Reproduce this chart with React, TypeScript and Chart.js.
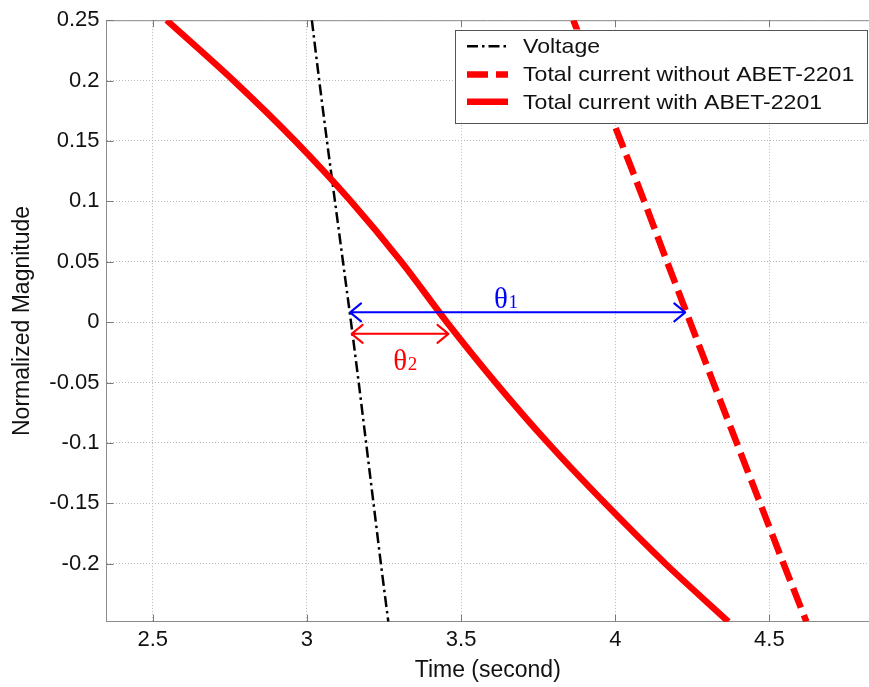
import React, { useEffect, useRef } from "react";
import { Chart, registerables } from "chart.js";

Chart.register(...registerables);

// ---- data ----
// magnitude levels (y) at which each curve's time (x) was read
const magnitudeLevels = [0.25, 0.2, 0.15, 0.1, 0.05, 0, -0.05, -0.1, -0.15, -0.2, -0.248];
const voltageTimes = [3.016, 3.04, 3.065, 3.091, 3.117, 3.143, 3.168, 3.192, 3.216, 3.24, 3.264];
const currentWithoutTimes = [3.864, 3.94, 4.018, 4.094, 4.168, 4.243, 4.318, 4.394, 4.47, 4.546, 4.62];
const currentWithTimes = [2.545, 2.762, 2.962, 3.143, 3.306, 3.454, 3.612, 3.782, 3.967, 4.163, 4.367];

const seriesNames = ["Voltage", "Total current without ABET-2201", "Total current with ABET-2201"];

const xRange = [2.35, 4.823];
const yRange = [-0.248, 0.25];
const xStep = 0.5;
const yStep = 0.05;

// phase-shift arrows (theta1, theta2)
const arrowSymbols = ["θ", "θ"];
const arrowSubscripts = ["1", "2"];
const arrowFrom = [3.14, 3.145];
const arrowTo = [4.227, 3.459];
const arrowLevel = [0.0081, -0.0097];
const arrowLabelX = [3.645, 3.318];
const arrowLabelY = [0.02, -0.0313];
const arrowColors = ["#0000ff", "#ff0000"];

const FONT = '"Liberation Sans", Arial, Helvetica, sans-serif';
const SERIF = '"Liberation Serif", "Times New Roman", serif';

function toPoints(times: number[]) {
  return times.map((t, i) => ({ x: t, y: magnitudeLevels[i] }));
}

function fmt(v: any) {
  const n = Math.round(Number(v) * 1000) / 1000;
  return n === 0 ? "0" : String(n);
}

const frameAndTicks = {
  id: "frameAndTicks",
  beforeDatasetsDraw(chart: any) {
    const { ctx, chartArea: a, scales } = chart;
    ctx.save();
    ctx.strokeStyle = "#8a8a8a";
    ctx.lineWidth = 1;
    ctx.setLineDash([]);
    ctx.beginPath();
    ctx.moveTo(a.left, a.top + 0.5);
    ctx.lineTo(a.right, a.top + 0.5);
    ctx.stroke();
    const tl = 7;
    ctx.strokeStyle = "#7a7a7a";
    scales.x.ticks.forEach((t: any) => {
      const px = Math.round(scales.x.getPixelForValue(t.value)) + 0.5;
      ctx.beginPath();
      ctx.moveTo(px, a.top);
      ctx.lineTo(px, a.top + tl);
      ctx.moveTo(px, a.bottom);
      ctx.lineTo(px, a.bottom - tl);
      ctx.stroke();
    });
    scales.y.ticks.forEach((t: any) => {
      const py = Math.round(scales.y.getPixelForValue(t.value)) + 0.5;
      ctx.beginPath();
      ctx.moveTo(a.left, py);
      ctx.lineTo(a.left + tl, py);
      ctx.stroke();
    });
    ctx.restore();
  },
};

const phaseArrows = {
  id: "phaseArrows",
  afterDatasetsDraw(chart: any) {
    const { ctx, scales } = chart;
    const xs = scales.x;
    const ys = scales.y;
    arrowFrom.forEach((from, i) => {
      const x1 = xs.getPixelForValue(from);
      const x2 = xs.getPixelForValue(arrowTo[i]);
      const yy = ys.getPixelForValue(arrowLevel[i]);
      const col = arrowColors[i];
      ctx.save();
      ctx.strokeStyle = col;
      ctx.lineWidth = 2;
      ctx.setLineDash([]);
      ctx.lineCap = "round";
      ctx.lineJoin = "round";
      ctx.beginPath();
      ctx.moveTo(x1, yy);
      ctx.lineTo(x2, yy);
      ctx.moveTo(x1 + 11, yy - 9);
      ctx.lineTo(x1, yy);
      ctx.lineTo(x1 + 11, yy + 9);
      ctx.moveTo(x2 - 11, yy - 9);
      ctx.lineTo(x2, yy);
      ctx.lineTo(x2 - 11, yy + 9);
      ctx.stroke();

      // label
      const cx = xs.getPixelForValue(arrowLabelX[i]);
      const cy = ys.getPixelForValue(arrowLabelY[i]);
      ctx.fillStyle = col;
      ctx.textBaseline = "alphabetic";
      ctx.textAlign = "left";
      ctx.font = `29px ${SERIF}`;
      const w1 = ctx.measureText(arrowSymbols[i]).width;
      ctx.font = `19px ${SERIF}`;
      const w2 = ctx.measureText(arrowSubscripts[i]).width;
      const start = cx - (w1 + w2) / 2;
      const base = cy + 10;
      ctx.font = `29px ${SERIF}`;
      ctx.fillText(arrowSymbols[i], start, base);
      ctx.font = `19px ${SERIF}`;
      ctx.fillText(arrowSubscripts[i], start + w1 + 0.5, base);
      ctx.restore();
    });
  },
};

const boxedLegend = {
  id: "boxedLegend",
  afterDraw(chart: any) {
    const { ctx, chartArea: a } = chart;
    const w = 412;
    const h = 93;
    const left = a.right - w - 2;
    const top = a.top + 9.3;
    ctx.save();
    ctx.fillStyle = "#ffffff";
    ctx.fillRect(left, top, w, h);
    ctx.strokeStyle = "#555555";
    ctx.lineWidth = 1;
    ctx.setLineDash([]);
    ctx.strokeRect(Math.round(left) + 0.5, Math.round(top) + 0.5, w, h);
    const rows = [16.7, 45, 72.3];
    chart.data.datasets.forEach((ds: any, i: number) => {
      const yy = top + rows[i];
      ctx.save();
      ctx.strokeStyle = ds.borderColor;
      ctx.lineWidth = ds.borderWidth;
      ctx.setLineDash(ds.borderDash || []);
      ctx.lineCap = "butt";
      ctx.beginPath();
      ctx.moveTo(left + 12, yy);
      ctx.lineTo(left + 53, yy);
      ctx.stroke();
      ctx.restore();
      ctx.save();
      ctx.fillStyle = "#111111";
      ctx.font = `21px ${FONT}`;
      ctx.textBaseline = "middle";
      ctx.textAlign = "left";
      ctx.translate(left + 68, yy + 1);
      ctx.scale(1.1, 1);
      ctx.fillText(ds.label, 0, 0);
      ctx.restore();
    });
    ctx.restore();
  },
};

export default function App() {
  const ref = useRef<HTMLCanvasElement>(null);

  useEffect(() => {
    const canvas = ref.current;
    if (!canvas) return;
    const tickFont = { family: FONT, size: 22 };
    const chart = new Chart(canvas, {
      type: "line",
      data: {
        datasets: [
          {
            label: seriesNames[0],
            data: toPoints(voltageTimes),
            borderColor: "#000000",
            borderWidth: 2.5,
            borderDash: [11, 4, 2.5, 4],
            pointRadius: 0,
            cubicInterpolationMode: "monotone",
            clip: 0,
            order: 3,
          },
          {
            label: seriesNames[1],
            data: toPoints(currentWithoutTimes),
            borderColor: "#ff0000",
            borderWidth: 6.5,
            borderDash: [21, 8],
            pointRadius: 0,
            cubicInterpolationMode: "monotone",
            clip: 0,
            order: 2,
          },
          {
            label: seriesNames[2],
            data: toPoints(currentWithTimes),
            borderColor: "#ff0000",
            borderWidth: 6.5,
            pointRadius: 0,
            cubicInterpolationMode: "monotone",
            clip: 0,
            order: 1,
          },
        ],
      },
      options: {
        responsive: false,
        animation: false,
        devicePixelRatio: 1,
        layout: { padding: { top: 15.7, left: 0, right: 0, bottom: 0 } },
        plugins: {
          legend: { display: false },
          tooltip: { enabled: false },
        },
        scales: {
          x: {
            type: "linear",
            min: xRange[0],
            max: xRange[1],
            afterFit: (s: any) => {
              s.height = 65.3;
            },
            ticks: {
              stepSize: xStep,
              includeBounds: false,
              font: tickFont,
              color: "#111111",
              padding: 5,
              maxRotation: 0,
              autoSkip: false,
              callback: (v: any) => fmt(v),
            },
            grid: { color: "#b8b8b8", lineWidth: 1, drawTicks: false },
            border: { display: true, color: "#8a8a8a", width: 1, dash: [1, 2] },
            title: {
              display: true,
              text: "Time (second)",
              font: { family: FONT, size: 23 },
              color: "#111111",
              padding: { top: 0, bottom: 3 },
            },
          },
          y: {
            type: "linear",
            min: yRange[0],
            max: yRange[1],
            afterFit: (s: any) => {
              s.width = 106.5;
            },
            ticks: {
              stepSize: yStep,
              includeBounds: false,
              font: tickFont,
              color: "#111111",
              padding: 7,
              autoSkip: false,
              callback: (v: any) => fmt(v),
            },
            grid: { color: "#b8b8b8", lineWidth: 1, drawTicks: false },
            border: { display: true, color: "#8a8a8a", width: 1, dash: [1, 2] },
            title: {
              display: true,
              text: "Normalized Magnitude",
              font: { family: FONT, size: 23 },
              color: "#111111",
              padding: { top: 9, bottom: 0 },
            },
          },
        },
      },
      plugins: [frameAndTicks, phaseArrows, boxedLegend],
    } as any);
    return () => chart.destroy();
  }, []);

  return (
    <div
      style={{
        position: "absolute",
        left: 0,
        top: 0,
        width: 869,
        height: 687,
        overflow: "hidden",
        background: "#ffffff",
      }}
    >
      <canvas
        ref={ref}
        width={869}
        height={687}
        style={{ display: "block", width: "869px", height: "687px" }}
      />
    </div>
  );
}
